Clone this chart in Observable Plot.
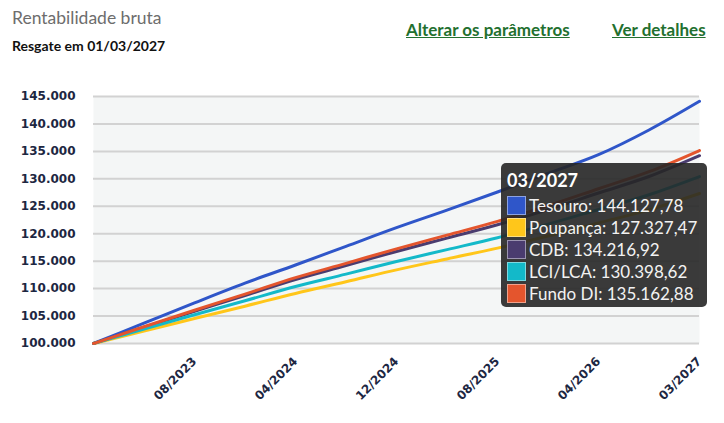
<!DOCTYPE html>
<html><head><meta charset="utf-8">
<script src="https://cdn.jsdelivr.net/npm/d3@7"></script>
<script src="https://cdn.jsdelivr.net/npm/@observablehq/plot@0.6"></script>
<style>
body{margin:0;background:#fff;width:724px;height:423px;overflow:hidden;position:relative;font-family:Lato,"Open Sans",sans-serif}
#title{position:absolute;left:12px;top:7px;font-size:17.5px;color:#6d6d6d;white-space:nowrap}
#sub{position:absolute;left:12px;top:37px;font-size:14px;font-weight:bold;color:#111;white-space:nowrap}
.link{position:absolute;top:19px;font-size:17px;font-weight:bold;color:#23702f;text-decoration:underline;white-space:nowrap}
#chart{position:absolute;left:0;top:60px}
#tip{position:absolute;left:501px;top:163px;width:206px;height:144px;background:rgba(38,38,38,0.9);border-radius:5px;color:#f2f2f2;box-sizing:border-box;padding:6px 0 0 6px}
#tip .t{font-weight:bold;font-size:18px;line-height:22px;color:#fff;margin-bottom:3px}
#tip .r{display:flex;align-items:center;height:22px;font-size:17px;white-space:nowrap}
#tip .sw{width:17px;height:17px;border:1.5px solid rgba(255,255,255,0.45);margin-right:3px;flex:none}
</style></head><body>
<div id="title">Rentabilidade bruta</div>
<div id="sub">Resgate em 01/03/2027</div>
<div class="link" style="left:406px">Alterar os parâmetros</div>
<div class="link" style="left:612px">Ver detalhes</div>
<div id="chart"></div>
<div id="tip"></div>
<script>
// x positions (index of the period along the axis)
const pontos = [0, 4, 8, 12, 16, 20, 24, 28, 32, 36, 40, 44, 48];
const tesouro  = [100000, 103700, 107400, 111000, 114300, 117700, 121100, 124300, 127600, 131000, 134400, 138900, 144127.78];
const poupanca = [100000, 102290, 104540, 106800, 109120, 111240, 113420, 115410, 117380, 119580, 121970, 124350, 127327.47];
const cdb      = [100000, 102960, 105880, 108750, 111660, 114190, 116770, 119200, 121630, 124400, 127410, 130420, 134216.92];
const lci      = [100000, 102640, 105240, 107790, 110390, 112640, 114940, 117100, 119270, 121740, 124420, 127100, 130398.62];
const fundoDI  = [100000, 103050, 106050, 109000, 112000, 114600, 117250, 119750, 122250, 125100, 128200, 131300, 135162.88];
const seriesNames = ["Tesouro", "Poupança", "CDB", "LCI/LCA", "Fundo DI"];
const seriesColors = ["#2f56c9", "#ffc61a", "#4a3c6f", "#13b9c9", "#e4552d"];
const yTicks = [100000, 105000, 110000, 115000, 120000, 125000, 130000, 135000, 140000, 145000];
const xTickPos = [8, 16, 24, 32, 40, 48];
const xTickLabels = ["08/2023", "04/2024", "12/2024", "08/2025", "04/2026", "03/2027"];
const tipTitle = "03/2027";

const br = d3.formatLocale({decimal: ",", thousands: ".", grouping: [3], currency: ["R$", ""]});
const fmtInt = br.format(",.0f");
const fmtDec = br.format(",.2f");

const arrays = [tesouro, poupanca, cdb, lci, fundoDI];
const rows = [];
seriesNames.forEach((s, i) => pontos.forEach((p, j) => rows.push({serie: s, x: p, y: arrays[i][j]})));

const plot = Plot.plot({
  width: 724, height: 363,
  marginTop: 36, marginBottom: 80, marginLeft: 93, marginRight: 25,
  x: {domain: [0, 48]},
  y: {domain: [100000, 145000]},
  color: {domain: seriesNames, range: seriesColors},
  style: {fontFamily: "DejaVu Sans", fontSize: "12px", fontWeight: "bold", color: "#1d2742", background: "transparent"},
  marks: [
    Plot.frame({fill: "#f4f6f6", stroke: "none"}),
    Plot.gridY(yTicks, {stroke: "#d2d2d2", strokeWidth: 2, strokeOpacity: 1}),
    Plot.axisY(yTicks, {tickSize: 0, tickPadding: 18, tickFormat: d => fmtInt(d), label: null}),
    Plot.axisX(xTickPos, {tickSize: 0, tickPadding: 16, tickRotate: -45, tickFormat: d => xTickLabels[xTickPos.indexOf(d)], label: null}),
    Plot.line(rows, {x: "x", y: "y", z: "serie", stroke: "serie", strokeWidth: 3, curve: "monotone-x"})
  ]
});
document.getElementById("chart").append(plot);

const tip = document.getElementById("tip");
let html = `<div class="t">${tipTitle}</div>`;
seriesNames.forEach((s, i) => {
  html += `<div class="r"><span class="sw" style="background:${seriesColors[i]}"></span><span>${s}: ${fmtDec(arrays[i][arrays[i].length - 1])}</span></div>`;
});
tip.innerHTML = html;
</script>
</body></html>
